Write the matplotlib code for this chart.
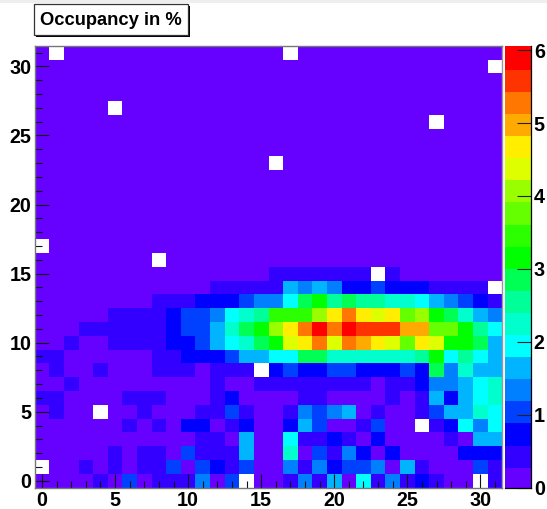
import numpy as np
import matplotlib
matplotlib.use("Agg")
import matplotlib.pyplot as plt
from matplotlib.colors import ListedColormap, BoundaryNorm
from matplotlib.patches import Rectangle
from matplotlib.ticker import MultipleLocator

W, H = 547, 509
N = float("nan")

title = "Occupancy in %"
x_ticks = [0, 5, 10, 15, 20, 25, 30]
y_ticks = [0, 5, 10, 15, 20, 25, 30]
cbar_ticks = [0, 1, 2, 3, 4, 5, 6]
z_max = 6.06

palette = ["#6600ff", "#3300ff", "#0000ff", "#0040ff", "#0080ff", "#00b4ff", "#00ffff",
           "#00ffcc", "#00ff99", "#00ff55", "#00ff00", "#2bff00", "#66ff00", "#99ff00",
           "#ddff00", "#ffee00", "#ffaa00", "#ff7700", "#ff3300", "#ff0000"]

# occupancy per row, bottom (y=0) to top (y=31); NaN = empty cell
row_00 = [.15,.15,.15,.15,.45,.15,1.06,.15,.45,.45,.45,1.36,.15,1.06,N,.15, .15,.45,1.36,.45,1.67,.15,1.97,.45,1.36,.45,.76,.45,.15,.15,N,.45]
row_01 = [N,.15,.15,.45,.15,.45,.15,.45,.45,1.06,.15,1.06,.76,.45,1.06,.15, .15,1.36,.45,1.36,.76,1.06,1.06,1.36,.15,1.67,.45,.15,.15,.15,1.06,.45]
row_02 = [.15,.15,.15,.15,.15,.45,.15,.45,.45,.15,1.06,.45,.45,.45,1.67,.15, .15,2.27,.15,1.06,.45,1.36,.76,.15,.76,.15,.15,.15,.15,.76,.76,.76]
row_03 = [.15,.15,.15,.15,.15,.15,.15,.15,.15,.15,.15,.45,.45,.15,1.67,.15, .15,1.97,.45,.45,.76,.45,.15,.76,.15,.15,.15,.15,.45,.15,1.67,1.67]
row_04 = [.15,.15,.15,.15,.15,.15,.45,.15,.45,.15,.76,.76,.15,.45,.76,.15, .15,.76,1.67,1.06,.15,.15,.45,1.06,.15,.15,N,.45,.76,1.97,1.36,1.97]
row_05 = [.15,.45,.15,.15,N,.15,.15,.45,.15,.15,.15,.45,.45,1.06,.45,.15, .15,.45,1.36,1.06,1.36,1.67,.15,.45,.15,.15,.45,1.06,1.67,1.67,2.27,1.97]
row_06 = [.45,.45,.15,.15,.15,.15,.45,.45,.45,.15,.15,.15,.45,.76,.15,.15, .15,.15,.45,.45,.15,.15,.15,.15,.45,.15,.45,1.67,.76,1.67,1.97,2.27]
row_07 = [.15,.15,.45,.15,.15,.15,.15,.15,.15,.15,.15,.15,.45,.15,.15,.45, .45,.45,.45,.45,.45,.45,.45,.15,.45,.45,.76,1.36,1.36,1.67,1.97,2.27]
row_08 = [.15,.45,.15,.15,.45,.15,.15,.15,.45,.45,.45,.15,.45,.45,.45,N, .76,1.06,.76,.76,1.06,1.06,.76,.76,.76,1.06,.76,2.75,1.36,2.27,1.67,1.67]
row_09 = [.45,.45,.15,.15,.15,.15,.15,.15,.45,.45,.76,.76,.76,1.06,1.67,1.67, 1.97,1.97,2.88,2.88,2.27,2.27,2.27,2.27,2.27,2.27,2.58,3.18,1.97,2.58,1.97,1.67]
row_10 = [.15,.15,.45,.15,.15,.45,.45,.45,.45,.76,.76,1.06,1.67,1.97,2.27,2.88, 3.33,4.39,4.70,5.30,4.39,5.30,5.00,4.70,4.39,3.79,4.70,4.39,3.18,3.33,2.88,1.67]
row_11 = [.15,.15,.15,.45,.45,.45,.45,.45,.45,.76,1.06,1.06,1.67,2.27,2.88,3.18, 4.09,4.70,5.30,5.91,5.30,5.91,5.60,5.60,5.60,5.00,5.00,3.79,3.79,3.18,2.58,1.97]
row_12 = [.15,.15,.15,.15,.15,.45,.45,.45,.45,.76,1.06,1.06,1.36,1.97,2.27,2.58, 3.48,3.48,3.48,4.09,4.70,5.30,4.70,4.39,4.70,3.79,4.09,3.18,2.88,2.27,1.67,1.36]
row_13 = [.15,.15,.15,.15,.15,.15,.15,.15,.45,.45,.45,.76,.76,.76,1.06,1.36, 1.36,1.97,2.88,3.18,2.58,2.88,2.58,2.58,2.27,2.27,1.97,1.67,1.36,1.06,.76,.45]
row_14 = [.15,.15,.15,.15,.15,.15,.15,.15,.15,.15,.15,.15,.45,.45,.45,.45, .45,1.67,1.36,1.67,1.36,.76,.76,1.06,.76,.76,.76,.45,.45,.45,.45,N]
row_15 = [.15,.15,.15,.15,.15,.15,.15,.15,.15,.15,.15,.15,.15,.15,.15,.15, .45,.45,.45,.45,.45,.45,.45,N,.45,.15,.15,.15,.15,.15,.15,.15]
row_16 = [.15]*8 + [N] + [.15]*23
row_17 = [N] + [.15]*31
row_18 = [.15]*32
row_19 = [.15]*32
row_20 = [.15]*32
row_21 = [.15]*32
row_22 = [.15]*32
row_23 = [.15]*16 + [N] + [.15]*15
row_24 = [.15]*32
row_25 = [.15]*32
row_26 = [.15]*27 + [N] + [.15]*4
row_27 = [.15]*5 + [N] + [.15]*26
row_28 = [.15]*32
row_29 = [.15]*32
row_30 = [.15]*31 + [N]
row_31 = [.15] + [N] + [.15]*15 + [N] + [.15]*14

rows = [row_00,row_01,row_02,row_03,row_04,row_05,row_06,row_07,row_08,row_09,row_10,row_11,
        row_12,row_13,row_14,row_15,row_16,row_17,row_18,row_19,row_20,row_21,row_22,row_23,
        row_24,row_25,row_26,row_27,row_28,row_29,row_30,row_31]

plt.rcParams["font.family"] = ["Liberation Sans", "DejaVu Sans"]
plt.rcParams["font.weight"] = "bold"

fig = plt.figure(figsize=(W / 100, H / 100), dpi=100, facecolor="white")

def box(x0, y0, x1, y1):
    return [x0 / W, 1 - y1 / H, (x1 - x0) / W, (y1 - y0) / H]

ax = fig.add_axes(box(34.7, 45.7, 502.3, 487.7))
cax = fig.add_axes(box(505.3, 45.7, 531.0, 487.7))

bounds = np.linspace(0, z_max, len(palette) + 1)
cmap = ListedColormap(palette)
cmap.set_bad("white")
norm = BoundaryNorm(bounds, cmap.N)

edges = np.arange(-0.5, 32, 1)
z = np.ma.masked_invalid(np.array(rows, dtype=float))
mesh = ax.pcolormesh(edges, edges, z, cmap=cmap, norm=norm, antialiased=False, linewidth=0)

ax.set_xlim(-0.5, 31.5)
ax.set_ylim(-0.5, 31.5)
ax.set_xticks(x_ticks)
ax.set_yticks(y_ticks)
ax.xaxis.set_minor_locator(MultipleLocator(1))
ax.yaxis.set_minor_locator(MultipleLocator(1))
ax.tick_params(axis="both", which="major", direction="in", length=10, width=0.8, color="#111111", labelsize=14.2)
ax.tick_params(axis="both", which="minor", direction="in", length=5, width=0.8, color="#111111")
ax.tick_params(axis="x", which="major", pad=2.4)
ax.tick_params(axis="y", which="major", pad=2.4)
for s in ax.spines.values():
    s.set_color("#777777")
    s.set_linewidth(1.0)
ax.spines["right"].set_color("#999999")

cb = fig.colorbar(mesh, cax=cax, boundaries=bounds, spacing="proportional", ticks=cbar_ticks)
cb.solids.set_edgecolor("face")
cb.outline.set_visible(False)
cax.set_yticklabels([str(t) for t in cbar_ticks])
cax.tick_params(axis="y", which="major", direction="in", length=10, width=0.8, color="#222222",
                labelsize=14.2, pad=2, right=True, left=False)
cax.minorticks_off()
cax.spines["right"].set_visible(True)
cax.spines["bottom"].set_visible(True)
for name in ("right", "bottom"):
    cax.spines[name].set_color("black")
    cax.spines[name].set_linewidth(0.9)

def frect(x0, y0, x1, y1, **kw):
    fig.add_artist(Rectangle((x0 / W, 1 - y1 / H), (x1 - x0) / W, (y1 - y0) / H,
                             transform=fig.transFigure, **kw))

frect(0, 0, W, 2.5, facecolor="#eeeeee", edgecolor="none")
frect(36, 6, 190, 37, facecolor="black", edgecolor="none")
frect(34.2, 4.5, 187.7, 35, facecolor="white", edgecolor="#333333", linewidth=0.9)
fig.text(110.5 / W, 1 - 20.7 / H, title, ha="center", va="center", fontsize=13.2, fontweight="bold", color="black")

fig.savefig("out.png", dpi=100, facecolor="white")
